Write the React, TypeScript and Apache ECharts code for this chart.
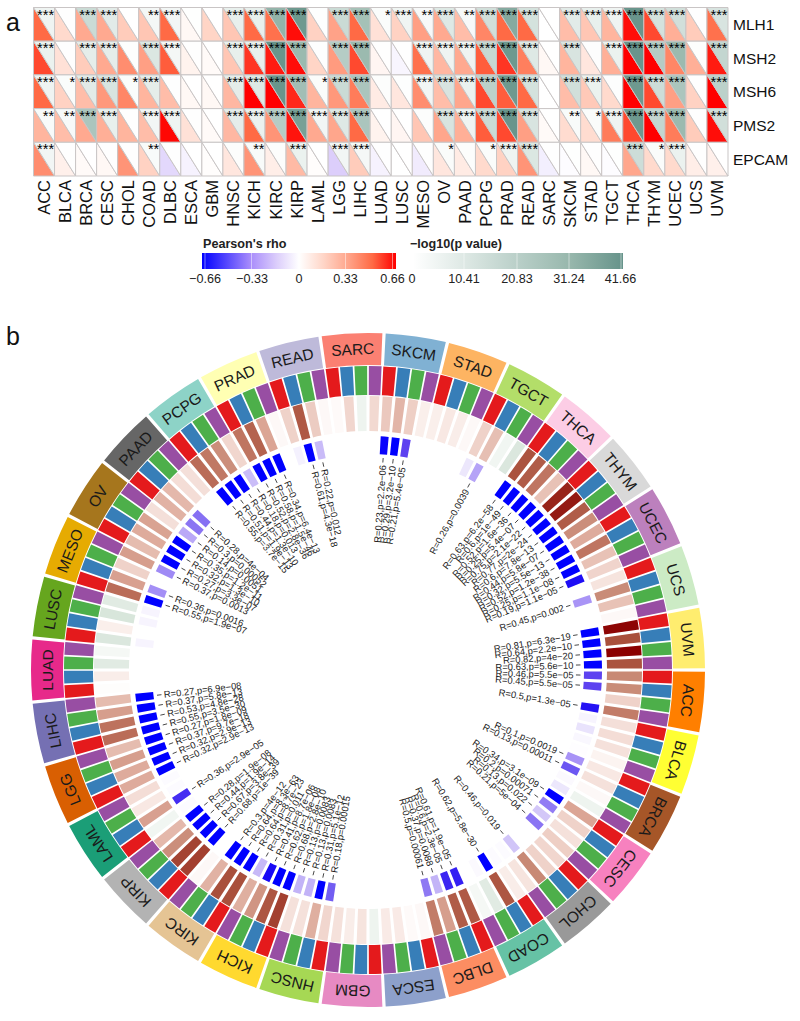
import React, { useEffect, useRef } from "react";
import * as echarts from "echarts";

const FONT = "Liberation Sans";

// ---------- panel a ----------
const cancers = ["ACC","BLCA","BRCA","CESC","CHOL","COAD","DLBC","ESCA","GBM","HNSC","KICH","KIRC","KIRP","LAML","LGG","LIHC","LUAD","LUSC","MESO","OV","PAAD","PCPG","PRAD","READ","SARC","SKCM","STAD","TGCT","THCA","THYM","UCEC","UCS","UVM"];
const genes = ["MLH1","MSH2","MSH6","PMS2","EPCAM"];

const rhoMLH1 = [.5,.15,.32,.32,.2,.22,.5,.03,.17,.22,.5,.48,.64,.18,.34,.5,.12,.18,.35,.32,.25,.42,.5,.5,0,.25,.22,.28,.64,.55,.3,.2,.48];
const rhoMSH2 = [.55,.12,.2,.32,.4,.35,.52,.05,.02,.22,.58,.62,.64,.17,.36,.55,.04,-.03,.48,.27,.32,.52,.58,.44,.03,.28,.1,.3,.66,.66,.42,.3,.62];
const rhoMSH6 = [.5,.18,.25,.37,.42,.28,.25,.03,.03,.27,.66,.66,.6,.28,.37,.45,.08,.1,.4,.25,.33,.55,.52,.5,0,.25,.21,.15,.66,.55,.35,.18,.66];
const rhoPMS2 = [.28,.25,.32,.3,.28,.25,.65,.12,.02,.27,.5,.38,.63,.32,.33,.5,.05,.04,.22,.33,.3,.52,.55,.35,.02,.14,.14,.45,.55,.66,.45,.2,.64];
const rhoEPCAM = [.4,.06,.02,.03,.38,.18,-.12,-.04,.01,.1,.38,.07,.26,.01,-.15,.2,-.04,0,-.06,.1,.08,.15,.18,.38,-.05,-.01,.03,-.01,.33,.15,.15,.07,.06];

const logpMLH1 = [5,.3,16,9,.1,3.5,4,.2,.1,7,7,32,40,.5,16,27,1.5,4.5,2.5,10,2.5,14,35,13,0,9,7,5,41,13,14,.3,12];
const logpMSH2 = [6,.4,8,8,.6,11,3.5,.3,.1,7,7,41,30,.5,22,30,.4,.3,5,5,5,17,40,10,.1,12,.7,6,41,22,30,.6,18];
const logpMSH6 = [5,1.5,9,12,1.5,8,.5,.1,.1,8,10,41,28,1.5,16,25,1,.5,4,12,6,20,40,13,0,14,6,.8,40,15,25,.3,20];
const logpPMS2 = [2,2.5,25,7,.3,4,5,.3,0,8,6,22,38,4,10,25,.1,.1,1,12,5,16,41,12,0,2,1.5,5,40,18,30,.3,14];
const logpEPCAM = [4,.3,.1,.3,.3,2,.3,.1,0,1,2,1,6,.1,4,3,.4,0,.3,1.5,1,1.5,5,11,.3,.2,.4,.2,15,1.5,6,.4,.1];

const starsMLH1 = ["***","","***","***","","**","***","","","***","***","***","***","","***","***","*","***","**","***","**","***","***","***","","***","***","***","***","***","***","","***"];
const starsMSH2 = ["***","","***","***","","***","***","","","***","***","***","***","","***","***","","","***","***","***","***","***","***","","***","","***","***","***","***","","***"];
const starsMSH6 = ["***","*","***","***","*","***","","","","***","***","***","***","*","***","***","","","***","***","***","***","***","***","","***","***","","***","***","***","","***"];
const starsPMS2 = ["**","**","***","***","","***","***","","","***","***","***","***","***","***","***","","","","***","***","***","***","***","","**","*","***","***","***","***","","***"];
const starsEPCAM = ["***","","","","","**","","","","","**","","***","","***","***","","","","*","","*","***","***","","","","","***","*","***","",""];

const rhoRows = [rhoMLH1, rhoMSH2, rhoMSH6, rhoPMS2, rhoEPCAM];
const logpRows = [logpMLH1, logpMSH2, logpMSH6, logpPMS2, logpEPCAM];
const starRows = [starsMLH1, starsMSH2, starsMSH6, starsPMS2, starsEPCAM];

const rhoTicks = ["−0.66", "−0.33", "0", "0.33", "0.66"];
const logpTicks = ["0", "10.41", "20.83", "31.24", "41.66"];

// ---------- panel b ----------
const sectorColors = ["#ff7f00","#ffff33","#a65628","#f781bf","#999999","#66c2a5","#fc8d62","#8da0cb","#e78ac3","#a6d854","#ffd92f","#e5c494","#b3b3b3","#1b9e77","#d95f02","#7570b3","#e7298a","#66a61e","#e6ab02","#a6761d","#666666","#8dd3c7","#ffffb3","#bebada","#fb8072","#80b1d3","#fdb462","#b3de69","#fccde5","#d9d9d9","#bc80bd","#ccebc5","#ffed6f"];
const geneColors = ["#e41a1c","#377eb8","#4daf4a","#984ea3"];

const corrR: number[][] = [
  [.46,.45,.2,.5],[.14,.15,.13,.05],[.1,.13,.03,-.05],[.34,.2,.13,.21],[.18,.2,.46,.12],
  [.08,.62,-.1,-.03],[.61,.6,.37,.5],[.03,.02,.09,.09],[-.05,.12,.08,.13],[.18,.31,.13,.13],
  [.68,.62,.41,.31],[.64,.64,.3,.03],[.68,.67,.44,.28],[-.04,.36,.1,.15],[.32,.32,.37,.27],
  [.55,.53,.37,.27],[.01,.08,-.1,-.03],[-.12,.07,-.13,-.1],[.55,.36,.2,.37],[.27,.32,.35,.14],
  [.3,.28,.15,.14],[.55,.51,.44,.18],[.52,.58,.34,.03],[.2,.61,.22,.03],[.02,.18,-.05,.17],
  [.23,.29,.21,.07],[.07,.1,.08,.03],[.2,.26,-.04,-.12],[.63,.6,.52,.25],[.75,.77,.6,.44],
  [.32,.52,.25,.19],[.12,.45,.25,.03],[.81,.64,.82,.63],
];
const corrP: string[][] = [
  ["5.5e-05","5.5e-05","1","1.3e-05"],["0.5","0.15","0.6","0.9"],["0.0019","0.00011","0.7","0.2"],["3.1e-09","0.00071","0.022","5e-04"],["1","1","0.019","0.8"],
  ["0.8","5.8e-30","0.7","1"],["1.9e-05","2.3e-05","0.0088","0.00061"],["1","1","1","1"],["1","1","1","1"],["0.00015","5.1e-12","0.0083","0.0083"],
  ["2.8e-10","1.8e-08","8.7e-06","0.011"],["8.7e-23","8.3e-63","4e-12","1"],["1e-39","3.8e-39","1.9e-14","1.9e-08"],["0.8","2.9e-05","0.8","0.8"],["2.9e-13","2.9e-13","9.7e-18","1.8e-09"],
  ["3.5e-30","4.8e-28","5.8e-13","6.9e-08"],["1","1","1","1"],["0.5","1","0.5","0.5"],["1.9e-07","0.0016","1","0.0013"],["3.3e-07","1.3e-10","1.2e-11","0.0051"],
  ["0.00052","4e-04","1","1"],["3.7e-15","1.9e-13","1.3e-10","0.013"],["2.8e-36","1.5e-46","6.4e-13","1"],["0.4","4.3e-18","0.012","1"],["1","1","1","1"],
  ["2.2e-06","3.2e-10","5.4e-05","1"],["1","1","1","1"],["0.2","0.0039","1","1"],["6.2e-58","1e-49","1.6e-36","5.4e-07"],["2.1e-22","2e-24","7.8e-13","5.8e-07"],
  ["5.5e-13","1.2e-38","1.1e-08","1.1e-05"],["1","0.002","1","1"],["6.3e-19","2.2e-10","4e-20","5.6e-10"],
];

// ---------- colour ramps ----------
const hex = (h: string) => [1, 3, 5].map((i) => parseInt(h.slice(i, i + 2), 16));
function ramp(stops: [number, string][]) {
  return (v: number) => {
    if (v <= stops[0][0]) return stops[0][1];
    for (let i = 1; i < stops.length; i++) {
      if (v <= stops[i][0]) {
        const t = (v - stops[i - 1][0]) / (stops[i][0] - stops[i - 1][0]);
        const a = hex(stops[i - 1][1]);
        const b = hex(stops[i][1]);
        return `rgb(${a.map((x, k) => Math.round(x + (b[k] - x) * t)).join(",")})`;
      }
    }
    return stops[stops.length - 1][1];
  };
}
const rhoStops: [number, string][] = [[-.66,"#0000ff"],[-.33,"#a88cfb"],[-.15,"#dccefb"],[0,"#ffffff"],[.165,"#ffd6c8"],[.33,"#ffa68c"],[.5,"#ff6a45"],[.66,"#ff0000"]];
const logpStops: [number, string][] = [[0,"#ffffff"],[10.41,"#dde8e4"],[20.83,"#b9cfc8"],[31.24,"#97b7ac"],[41.66,"#66938a"]];
const rhoColor = ramp(rhoStops);
const logpColor = ramp(logpStops);
const heatColor = ramp([[-.15,"#d3e2d6"],[-.05,"#eef4ef"],[0,"#ffffff"],[.1,"#f8e8e3"],[.2,"#efd2c9"],[.34,"#dba595"],[.45,"#c98c78"],[.52,"#bf7561"],[.64,"#a9503c"],[.75,"#98251a"],[.82,"#8b0000"]]);
const sigColor = ramp([[0,"#ffffff"],[.3,"#f7f4fe"],[1.7,"#d2c6f8"],[2.7,"#a994f6"],[3.3,"#8a74f3"],[4,"#6a55f2"],[4.3,"#5b3ff0"],[5,"#1a0af5"],[6,"#0000ff"]]);

const GAP_ANGLE_CELL = 4;
const cellAngle = (s: number, g: number) => s + (g + 0.5) / GAP_ANGLE_CELL;
const gradient = (stops: [number, string][]) => {
  const lo = stops[0][0];
  const hi = stops[stops.length - 1][0];
  return new echarts.graphic.LinearGradient(0, 0, 1, 0, stops.map(([v, c]) => ({ offset: (v - lo) / (hi - lo), color: c })));
};

function buildOption(): any {
  const heatData: any[] = [];
  rhoRows.forEach((row, y) => row.forEach((r, x) => heatData.push([x, y, r, logpRows[y][x]])));

  const ringCells: { a: number; s: number; g: number }[] = [];
  corrR.forEach((row, s) => row.forEach((_, g) => ringCells.push({ a: cellAngle(s, g), s, g })));
  const labelled = ringCells.filter((c) => Number(corrP[c.s][c.g]) < 0.05);

  const ringSeries = (r0: number, r1: number, widthDeg: number, color: (c: { s: number; g: number }) => string) => ({
    type: "custom",
    coordinateSystem: "polar",
    silent: true,
    clip: false,
    data: ringCells.map((c) => [(r0 + r1) / 2, c.a]),
    renderItem: (p: any, api: any) => {
      const c = ringCells[p.dataIndex];
      const half = (widthDeg / 360) * 33 / 2;
      const a = api.coord([r1, c.a - half]);
      const b = api.coord([r1, c.a + half]);
      const fill = color(c);
      return {
        type: "sector",
        shape: { cx: p.coordSys.cx, cy: p.coordSys.cy, r0, r: r1, startAngle: -a[3], endAngle: -b[3], clockwise: true },
        style: { fill },
      };
    },
  });

  return {
    animation: false,
    backgroundColor: "#ffffff",
    textStyle: { fontFamily: FONT },
    grid: { left: 33.5, top: 7.5, width: 694.5, height: 168.5, containLabel: false },
    xAxis: {
      type: "category", data: cancers, axisLine: { show: false }, axisTick: { show: false }, splitLine: { show: false },
      axisLabel: { rotate: 90, fontSize: 16.5, fontFamily: FONT, color: "#111", margin: 4, interval: 0 },
    },
    yAxis: {
      type: "category", data: genes, inverse: true, position: "right", axisLine: { show: false }, axisTick: { show: false }, splitLine: { show: false },
      axisLabel: { fontSize: 15.5, fontFamily: FONT, color: "#111", margin: 5, interval: 0 },
    },
    polar: { center: [368, 670], radius: 337 },
    angleAxis: { type: "value", min: 0, max: 33, startAngle: 0, clockwise: true, show: false },
    radiusAxis: { type: "value", min: 0, max: 337, show: false },
    series: [
      {
        type: "custom",
        coordinateSystem: "cartesian2d",
        silent: true,
        clip: false,
        data: heatData,
        encode: { x: 0, y: 1 },
        renderItem: (p: any, api: any) => {
          const xi = api.value(0);
          const yi = api.value(1);
          const c = api.coord([xi, yi]);
          const s = api.size([1, 1]);
          const L = c[0] - s[0] / 2, R = c[0] + s[0] / 2, T = c[1] - s[1] / 2, B = c[1] + s[1] / 2;
          const edge = { stroke: "#c9c5c5", lineWidth: 1 };
          return {
            type: "group",
            children: [
              { type: "polygon", shape: { points: [[L, T], [L, B], [R, B]] }, style: { fill: rhoColor(api.value(2)), ...edge } },
              { type: "polygon", shape: { points: [[L, T], [R, T], [R, B]] }, style: { fill: logpColor(api.value(3)), ...edge } },
              { type: "text", style: { text: starRows[yi][xi], x: R - 0.5, y: T - 0.5, align: "right", verticalAlign: "top", fontSize: 14.5, fontFamily: FONT, fill: "#000" } },
            ],
          };
        },
      },
      // sector name ring
      {
        type: "custom",
        coordinateSystem: "polar",
        silent: true,
        clip: false,
        data: cancers.map((_, s) => [321, s + 0.5]),
        renderItem: (p: any, api: any) => {
          const s = p.dataIndex;
          const half = (10.35 / 360) * 33 / 2;
          const a = api.coord([337, s + 0.5 - half]);
          const b = api.coord([337, s + 0.5 + half]);
          const m = api.coord([321, s + 0.5]);
          const ang = -m[3];
          return {
            type: "group",
            children: [
              { type: "sector", shape: { cx: p.coordSys.cx, cy: p.coordSys.cy, r0: 305, r: 337, startAngle: -a[3], endAngle: -b[3], clockwise: true }, style: { fill: sectorColors[s] } },
              { type: "text", x: m[0], y: m[1], rotation: -(ang + Math.PI / 2), style: { text: cancers[s], x: 0, y: 0, align: "center", verticalAlign: "middle", fontSize: 15.5, fontFamily: FONT, fill: "#1a1a1a" } },
            ],
          };
        },
      },
      ringSeries(275, 304, 2.4, (c) => geneColors[c.g]),
      ringSeries(239, 274, 2.05, (c) => heatColor(corrR[c.s][c.g])),
      ringSeries(216, 234, 1.95, (c) => sigColor(-Math.log10(Number(corrP[c.s][c.g])))),
      // R / p labels
      {
        type: "custom",
        coordinateSystem: "polar",
        silent: true,
        clip: false,
        data: labelled.map((c) => [205.5, c.a]),
        renderItem: (p: any, api: any) => {
          const c = labelled[p.dataIndex];
          const t = api.coord([205.5, c.a]);
          const t0 = api.coord([212.5, c.a]);
          const t1 = api.coord([208, c.a]);
          const ang = -t[3];
          const right = Math.cos(ang) > 0;
          const text = `R=${corrR[c.s][c.g]},p=${corrP[c.s][c.g]}`.replace(/e-/, "e−");
          return {
            type: "group",
            children: [
              { type: "line", shape: { x1: t0[0], y1: t0[1], x2: t1[0], y2: t1[1] }, style: { stroke: "#333", lineWidth: 0.9 } },
              {
                type: "text", x: t[0], y: t[1], rotation: right ? -ang : -(ang - Math.PI),
                style: { text, x: 0, y: 0, align: right ? "right" : "left", verticalAlign: "middle", fontSize: 9.4, fontFamily: FONT, fill: "#222" },
              },
            ],
          };
        },
      },
    ],
    graphic: [
      { type: "text", x: 6, y: 9, style: { text: "a", fontSize: 25, fontFamily: FONT, fill: "#111" } },
      { type: "text", x: 6, y: 323, style: { text: "b", fontSize: 25, fontFamily: FONT, fill: "#111" } },
      { type: "text", x: 203, y: 237, style: { text: "Pearson's rho", fontSize: 12.6, fontWeight: "bold", fontFamily: FONT, fill: "#222" } },
      { type: "text", x: 410, y: 237, style: { text: "−log10(p value)", fontSize: 12.6, fontWeight: "bold", fontFamily: FONT, fill: "#222" } },
      { type: "rect", shape: { x: 202, y: 253, width: 194, height: 16 }, style: { fill: gradient(rhoStops) } },
      { type: "rect", shape: { x: 413, y: 253, width: 210, height: 16 }, style: { fill: gradient(logpStops) } },
      ...[205, 251.5, 298.5, 345.5, 392.5].map((x) => ({ type: "line", shape: { x1: x, y1: 253, x2: x, y2: 269 }, style: { stroke: "#ffffff", lineWidth: 0.8, opacity: 0.6 } })),
      ...[464, 517, 569, 621].map((x) => ({ type: "line", shape: { x1: x, y1: 253, x2: x, y2: 269 }, style: { stroke: "#ffffff", lineWidth: 0.8, opacity: 0.6 } })),
      ...rhoTicks.map((t, i) => ({ type: "text", x: [205, 252, 299, 345.5, 392.5][i], y: 278.5, style: { text: t, align: "center", verticalAlign: "middle", fontSize: 12.6, fontFamily: FONT, fill: "#222" } })),
      ...logpTicks.map((t, i) => ({ type: "text", x: [412, 464, 517, 569, 620.5][i], y: 278.5, style: { text: t, align: "center", verticalAlign: "middle", fontSize: 12.6, fontFamily: FONT, fill: "#222" } })),
    ],
  };
}

export default function App() {
  const ref = useRef<HTMLDivElement>(null);
  useEffect(() => {
    document.body.style.margin = "0";
    const chart = echarts.init(ref.current!, undefined, { renderer: "svg" });
    chart.setOption(buildOption());
    return () => chart.dispose();
  }, []);
  return <div ref={ref} style={{ width: 800, height: 1021 }} />;
}
